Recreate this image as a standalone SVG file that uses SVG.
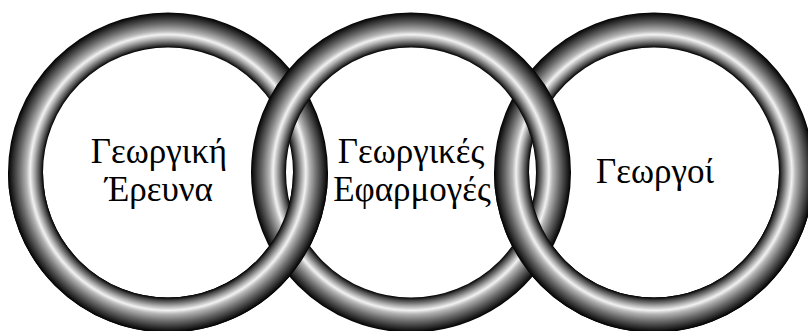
<svg xmlns="http://www.w3.org/2000/svg" width="808" height="331" viewBox="0 0 808 331">
  <style>
    .ring { fill: none; stroke: url(#tube); stroke-width: 35; }
    .label { font-family: "Liberation Serif", "DejaVu Serif", serif; font-size: 35px; fill: #000; text-anchor: middle; }
  </style>
  <defs>
    <radialGradient id="tube" gradientUnits="objectBoundingBox" cx="0.5" cy="0.5" r="0.5614" fx="0.5" fy="0.5">
      <stop offset="0" stop-color="#000"/>
      <stop offset="0.781" stop-color="#000"/>
      <stop offset="0.80" stop-color="#444"/>
      <stop offset="0.835" stop-color="#aaa"/>
      <stop offset="0.862" stop-color="#f2f2f2"/>
      <stop offset="0.885" stop-color="#b5b5b5"/>
      <stop offset="0.93" stop-color="#6a6a6a"/>
      <stop offset="0.97" stop-color="#2e2e2e"/>
      <stop offset="1" stop-color="#000"/>
    </radialGradient>
    <clipPath id="bottomHalf">
      <rect x="0" y="172.5" width="808" height="200"/>
    </clipPath>
  </defs>
  <rect x="0" y="0" width="808" height="331" fill="#fff"/>
  <g id="ring-research">
    <circle class="ring" cx="168" cy="172.5" r="142.5"/>
  </g>
  <g id="ring-farmers">
    <circle class="ring" cx="654" cy="172.5" r="142.5"/>
  </g>
  <g id="ring-applications">
    <circle class="ring" cx="411" cy="172.5" r="142.5"/>
  </g>
  <g id="interlock" clip-path="url(#bottomHalf)">
    <circle class="ring" cx="168" cy="172.5" r="142.5"/>
    <circle class="ring" cx="654" cy="172.5" r="142.5"/>
  </g>
  <g id="label-research">
    <text class="label" x="159" y="163">Γεωργική</text>
    <text class="label" x="159" y="201">Έρευνα</text>
  </g>
  <g id="label-applications">
    <text class="label" x="411" y="163">Γεωργικές</text>
    <text class="label" x="412" y="201">Εφαρμογές</text>
  </g>
  <g id="label-farmers">
    <text class="label" x="655" y="183">Γεωργοί</text>
  </g>
</svg>
